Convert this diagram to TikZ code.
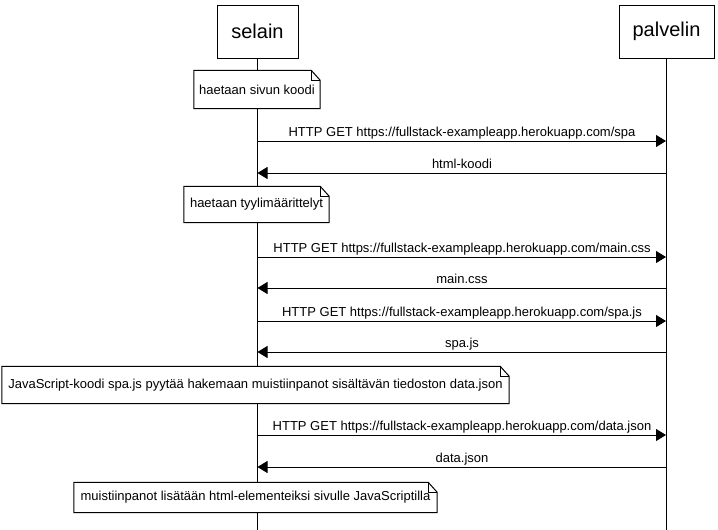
\documentclass[tikz,border=0pt]{standalone}
\usepackage{fontspec}
\setmainfont{Liberation Sans}
\usetikzlibrary{arrows.meta}
\newcommand\foldnote[1]{%
  \draw[line width=1pt] (#1.north west) -- ([xshift=-9pt]#1.north east) -- ([yshift=-10pt]#1.north east) -- (#1.south east) -- (#1.south west) -- cycle;
  \draw[line width=0.6pt] ([xshift=-9pt]#1.north east) |- ([yshift=-10pt]#1.north east);}
\begin{document}
\begin{tikzpicture}[x=1pt,y=-1pt,
  actor/.style={draw, line width=1pt, fill=white, minimum height=53pt, font=\fontsize{20}{23}\selectfont, inner sep=0pt},
  notebox/.style={fill=white, inner sep=0pt, font=\fontsize{13}{15}\selectfont},
  msg/.style={line width=1pt, -{Triangle[length=10pt,width=12pt]}},
  lbl/.style={font=\fontsize{13}{15}\selectfont, anchor=base, inner sep=0pt},
  life/.style={line width=1pt}]
\useasboundingbox (0,0) rectangle (718,530);
% actors
\node[actor, minimum width=81pt] (selain) at (257.5,31.5) {selain};
\node[actor, minimum width=95pt] (palvelin) at (666.5,31.5) {palvelin};
\coordinate (selainEnd) at (257.5,530);
\coordinate (palvelinEnd) at (666,530);
\draw[life] (selain.south) -- (selainEnd);
\draw[life] ([xshift=-0.5pt]palvelin.south) -- (palvelinEnd);
% message endpoints
\foreach \i/\y in {1/141,2/173,3/257,4/288,5/321,6/352,7/435,8/467}{
  \coordinate (s\i) at (257.5,\y);
  \coordinate (p\i) at (666,\y);
}
% notes
\node[notebox, minimum width=126pt, minimum height=38pt] (n1) at (257,89.5) {haetaan sivun koodi};
\foldnote{n1}
\node[notebox, minimum width=145pt, minimum height=36pt] (n2) at (256.5,204.5) {haetaan tyylimäärittelyt};
\foldnote{n2}
\node[notebox, minimum width=507pt, minimum height=37pt] (n3) at (255.5,385) {JavaScript-koodi spa.js pyytää hakemaan muistiinpanot sisältävän tiedoston data.json};
\foldnote{n3}
\node[notebox, minimum width=363pt, minimum height=30pt] (n4) at (255.5,497.5) {muistiinpanot lisätään html-elementeiksi sivulle JavaScriptilla};
\foldnote{n4}
% messages
\draw[msg] (s1) -- (p1);
\node[lbl] (l1) at (462,136) {HTTP GET https://fullstack-exampleapp.herokuapp.com/spa};
\draw[msg] (p2) -- (s2);
\node[lbl] (l2) at (462,168) {html-koodi};
\draw[msg] (s3) -- (p3);
\node[lbl] (l3) at (462,252) {HTTP GET https://fullstack-exampleapp.herokuapp.com/main.css};
\draw[msg] (p4) -- (s4);
\node[lbl] (l4) at (462,283) {main.css};
\draw[msg] (s5) -- (p5);
\node[lbl] (l5) at (462,316) {HTTP GET https://fullstack-exampleapp.herokuapp.com/spa.js};
\draw[msg] (p6) -- (s6);
\node[lbl] (l6) at (462,347) {spa.js};
\draw[msg] (s7) -- (p7);
\node[lbl] (l7) at (462,430) {HTTP GET https://fullstack-exampleapp.herokuapp.com/data.json};
\draw[msg] (p8) -- (s8);
\node[lbl] (l8) at (462,462) {data.json};
\end{tikzpicture}
\end{document}
